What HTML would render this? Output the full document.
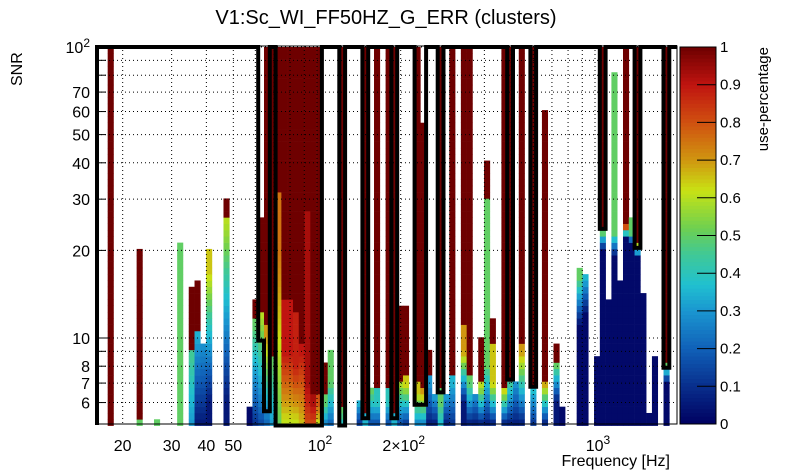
<!DOCTYPE html>
<html><head><meta charset="utf-8">
<style>
html,body{margin:0;padding:0;background:#fff;}
svg{display:block;font-family:"Liberation Sans",Arial,sans-serif;}
</style></head>
<body>
<svg id="chart" width="805" height="472" viewBox="0 0 805 472" xmlns="http://www.w3.org/2000/svg">
  <rect x="0" y="0" width="805" height="472" fill="#fff"/>
  <text x="386" y="24" font-size="20" text-anchor="middle">V1:Sc_WI_FF50HZ_G_ERR (clusters)</text>
  <g id="cells"></g>
  <g id="grid"></g>
  <path id="contour" fill="none" stroke="#000" stroke-width="4" stroke-linejoin="miter"/>
  <rect x="97" y="46" width="580" height="378" fill="none" stroke="#000" stroke-width="1"/>
  <g id="yaxis"></g>
  <g id="xaxis"></g>
  <text transform="translate(22,86) rotate(-90)" font-size="16" text-anchor="start">SNR</text>
  <text x="670" y="466" font-size="16" text-anchor="end">Frequency [Hz]</text>
  <g id="cbar"></g>
  <text transform="translate(768,47) rotate(-90)" font-size="15" text-anchor="end">use-percentage</text>
</svg>
<script>
// ---- data (per frequency bin, 101 log bins) ----
const binTop = [0,0,100,0,0,0,0,20.4,0,0,
 5.3,0,0,0,21.4,0,15.1,15.8,9.7,20.4,
 0,0,30.3,0,0,0,5.9,13.7,26,100,
 100,100,100,100,100,100,100,100,100,8.3,
 9.2,0,100,0,0,6.2,100,6.8,100,0,
 100,100,13,13,0,100,55,9,6.5,100,
 6.5,100,0,100,100,6.4,10.2,40.9,11.8,0,
 100,100,7,100,0,100,0,61,0,9.7,
 5.9,0,0,17.5,16.7,0,8.7,100,13.7,81,
 15.8,100,26,100,14.4,5.6,8.7,0,100,0,0];
const valLow = [0,0,1,0,0,0,0,0.5,0,0,
 0.5,0,0,0,0.5,0,0.3,0.05,0.05,0.05,
 0,0,0.05,0,0,0,0.02,0.1,0.15,0.2,
 0.3,0.5,0.6,0.6,0.6,0.65,0.8,0.8,0.6,0.25,
 0.2,0,0.35,0,0,0.1,0.35,0.15,0.15,0,
 0.15,0.35,0.15,0.1,0,0.25,0.25,0.05,0.05,0.35,
 0.05,0.1,0,0.05,0.05,0.05,0.05,0.05,0.05,0,
 0.05,0.05,0.05,0.05,0,0.1,0,0.05,0,0.05,
 0.02,0,0,0.02,0.02,0,0.02,0.02,0.02,0.02,
 0.02,0.02,0.02,0.02,0.02,0.02,0.02,0,0.02,0,0];
const valHigh = [0,0,1,0,0,0,0,0.5,0,0,
 0.5,0,0,0,0.5,0,0.45,0.35,0.3,0.65,
 0,0,0.6,0,0,0,0.02,0.5,0.6,0.7,
 0.5,0.75,0.9,0.9,0.88,0.9,0.93,0.93,0.8,0.5,
 0.5,0,0.5,0,0,0.35,0.35,0.5,0.4,0,
 0.4,0.35,0.6,0.65,0,0.65,0.7,0.3,0.35,0.5,
 0.35,0.35,0,0.7,0.5,0.3,0.6,0.5,0.65,0,
 0.7,0.45,0.3,0.7,0,0.4,0,0.7,0,0.5,
 0.02,0,0,0.5,0.35,0,0.02,0.5,0.02,0.5,
 0.02,0.8,0.5,0.6,0.02,0.02,0.02,0,0.5,0,0];
const rampStart = [5,5,5,5,5,5,5,5,5,5,
 5,5,5,5,5,5,5,5,5,6,
 5,5,6,5,5,5,5,5,5,5,
 5,5,5,5,5,5,5,5,5,5,
 5,5,5,5,5,5,5,5,5,5,
 5,5,5,5,5,5,5,5,5,5,
 5,5,5,6,5,5,5,5,5,5,
 5,5,5,5,5,5,5,5,5,6,
 5,5,5,11,12,5,5,20,5,19,
 5,22,21,19,5,5,5,5,7,5,5];
const rampEnd = [6,6,6,6,6,6,6,6,6,6,
 6,6,6,6,6,6,8.5,10.5,9.7,17,
 6,6,25,6,6,6,6,11,12,10,
 8,20,9,9,8,9,7,6,6,6,
 7,6,5.5,6,6,6,5.5,6.5,6,6,
 6,5.5,7,7,6,6.5,6.5,7,6.5,6,
 6.5,7,6,9,7,6.4,6.8,8,7,6,
 6.8,7,7,9,6,6.8,6,7,6,8,
 6,6,6,16,16,6,6,23,6,23,
 6,24,23,20.5,6,6,6,6,8,6,6];
const redAbove = [200,200,5,200,200,200,200,5.3,200,200,
 200,200,200,200,200,200,9,10.7,200,200,
 200,200,26,200,200,200,200,11.5,12.5,11,
 8.5,32,13.5,13.5,12,9.5,27,6.5,6.5,6.3,
 200,200,5.7,200,200,200,5.4,200,6.6,200,
 6.8,5.5,7.2,7.4,200,7,6.9,7.6,200,6.6,
 200,7.3,200,11,7.3,200,7,30,9.5,200,
 6.9,7.2,200,9.6,200,6.9,200,7.2,200,8.3,
 200,200,200,200,200,200,200,24,200,200,
 200,25,200,21,200,200,200,200,8.2,200,200];
const contourLevel = [100,100,100,100,100,100,100,100,100,100,
 100,100,100,100,100,100,100,100,100,100,
 100,100,100,100,100,100,100,100,9.8,5.6,
 100,5,5,5,5,5,5,5,5,100,
 100,100,5,100,100,100,5.3,100,100,100,
 100,5.3,100,100,100,5.9,5.9,100,100,6.5,
 100,100,100,100,100,100,100,100,100,100,
 100,7.2,100,100,100,6.8,100,100,100,100,
 100,100,100,100,100,100,100,23.7,100,100,
 100,100,100,20.4,100,100,100,100,7.9,100,100];
const yTickVals = [6,7,8,9,10,20,30,40,50,60,70,80,90,100];
const yTickLabels = {6:"6",7:"7",8:"8",10:"10",20:"20",30:"30",40:"40",50:"50",60:"60",70:"70"};
const xGridVals = [20,30,40,50,60,70,80,90,100,200,300,400,500,600,700,800,900,1000];
const xTickLabels = [[20,"20"],[30,"30"],[40,"40"],[50,"50"]];
const cbarTicks = [0,0.1,0.2,0.3,0.4,0.5,0.6,0.7,0.8,0.9,1];

// ---- axes ----
const PX0=97, PX1=677, PY0=46, PY1=424;
const logF0 = 2 + (96.1-317)/278, dLogF = 5.79/278;
function xOfLogF(lf){ return 317 + (lf-2)*278; }
function xOf(f){ return xOfLogF(Math.log10(f)); }
function yOf(s){ return 338 - (Math.log10(s)-1)*291; }
function binEdgeX(j){ return xOfLogF(logF0 + j*dLogF); }
const NY=60, lS0=Math.log10(5), lS1=2, dS=(lS1-lS0)/NY;

const stops=[[0,[0,0,96]],[0.1,[8,46,140]],[0.2,[16,96,184]],[0.3,[26,150,208]],[0.37,[32,192,208]],[0.45,[64,200,150]],[0.52,[110,208,80]],[0.62,[200,226,20]],[0.7,[208,150,16]],[0.8,[208,80,16]],[0.9,[192,20,16]],[1,[110,0,0]]];
function color(v){
  v=Math.max(0,Math.min(1,v));
  for(let i=1;i<stops.length;i++){ if(v<=stops[i][0]){ const a=stops[i-1],b=stops[i],t=(v-a[0])/(b[0]-a[0]);
    const c=a[1].map((x,k)=>Math.round(x+(b[1][k]-x)*t)); return `rgb(${c[0]},${c[1]},${c[2]})`; } }
  return 'rgb(110,0,0)';
}
function valueAt(j,s){
  if(s>=redAbove[j]) return 1;
  const a=Math.log10(rampStart[j]), b=Math.log10(rampEnd[j]), l=Math.log10(s);
  let t = b>a ? (l-a)/(b-a) : (l>=a?1:0);
  t=Math.max(0,Math.min(1,t));
  return valLow[j]+(valHigh[j]-valLow[j])*t;
}
const NS='http://www.w3.org/2000/svg';
function mk(tag,attrs,parent){ const e=document.createElementNS(NS,tag); for(const k in attrs) e.setAttribute(k,attrs[k]); parent.appendChild(e); return e; }

// cells
const gc=document.getElementById('cells');
for(let j=0;j<binTop.length;j++){
  if(!binTop[j]) continue;
  let x0=Math.max(PX0,binEdgeX(j)), x1=Math.min(PX1,binEdgeX(j+1));
  if(x1<=x0) continue;
  const col=mk('g',{},gc);
  
  
  for(let r=0;r<NY;r++){
    const lo=lS0+r*dS, hi=lo+dS, mid=Math.pow(10,(lo+hi)/2);
    if(mid>binTop[j]) break;
    const ya=yOf(Math.pow(10,hi)), yb=yOf(Math.pow(10,lo));
    const rc=mk('rect',{x:x0.toFixed(2),y:ya.toFixed(2),width:(x1-x0+0.3).toFixed(2),height:(yb-ya+0.3).toFixed(2),fill:color(valueAt(j,mid))},col);
    
    
  }
}
// grid
const gg=document.getElementById('grid');
xGridVals.forEach(f=>{ const x=xOf(f); const l=mk('line',{x1:x,x2:x,y1:PY0,y2:PY1,stroke:'#000','stroke-width':1,'stroke-dasharray':'1,3'},gg);
    });
yTickVals.forEach(s=>{ const y=yOf(s); const l=mk('line',{x1:PX0,x2:PX1,y1:y,y2:y,stroke:'#000','stroke-width':1,'stroke-dasharray':'1,3'},gg);
    });
// contour step path
let d=`M${PX0},${PY1+1} `;
for(let j=0;j<contourLevel.length;j++){
  const x0=Math.max(PX0,binEdgeX(j)), x1=Math.min(PX1,binEdgeX(j+1));
  if(x1<=x0) continue;
  const y=Math.max(PY0,Math.min(PY1+1.5,yOf(contourLevel[j])));
  d+=`L${x0.toFixed(1)},${y.toFixed(1)} L${x1.toFixed(1)},${y.toFixed(1)} `;
}
document.getElementById('contour').setAttribute('d',d);
// y axis
const gy=document.getElementById('yaxis');
yTickVals.forEach(s=>{ const y=yOf(s); const len=(s===10||s===100)?12:9;
  const t=mk('line',{x1:PX0,x2:PX0+len,y1:y,y2:y,stroke:'#000','stroke-width':1},gy);
   
  if(yTickLabels[s]){ const tx=mk('text',{x:90,y:y+6,'font-size':16,'text-anchor':'end'},gy); tx.textContent=yTickLabels[s];
      }
});
const y100=mk('text',{x:90,y:yOf(100)+6,'font-size':16,'text-anchor':'end'},gy);
 
y100.innerHTML='10<tspan dy="-6" font-size="12">2</tspan>';
// x axis labels
const gx=document.getElementById('xaxis');
xTickLabels.forEach(p=>{ const t=mk('text',{x:xOf(p[0]),y:451,'font-size':16,'text-anchor':'middle'},gx); t.textContent=p[1];
    });
[[100,'10','2'],[200,'2×10','2'],[1000,'10','3']].forEach(p=>{ const t=mk('text',{x:xOf(p[0])+3,y:451,'font-size':16,'text-anchor':'middle'},gx);
   
  t.innerHTML=p[1]+'<tspan dy="-7" font-size="12">'+p[2]+'</tspan>'; });
// color bar
const gb=document.getElementById('cbar'), CB0=680, CB1=716, CBT=47, CBB=424;
for(let i=0;i<100;i++){ const v=(i+0.5)/100, ya=CBB-(i+1)/100*(CBB-CBT);
  const r=mk('rect',{x:CB0,y:ya.toFixed(2),width:CB1-CB0,height:((CBB-CBT)/100+0.4).toFixed(2),fill:color(v)},gb);
    }
const cbf=mk('rect',{x:CB0,y:CBT,width:CB1-CB0,height:CBB-CBT,fill:'none',stroke:'#000','stroke-width':1},gb);
 
cbarTicks.forEach(v=>{ const y=CBB-v*(CBB-CBT);
  const l=mk('line',{x1:CB1-19,x2:CB1,y1:y,y2:y,stroke:'#000','stroke-width':1},gb);
   
  const t=mk('text',{x:720,y:y+5,'font-size':15},gb); t.textContent=String(v);
    });
</script>
</body></html>
